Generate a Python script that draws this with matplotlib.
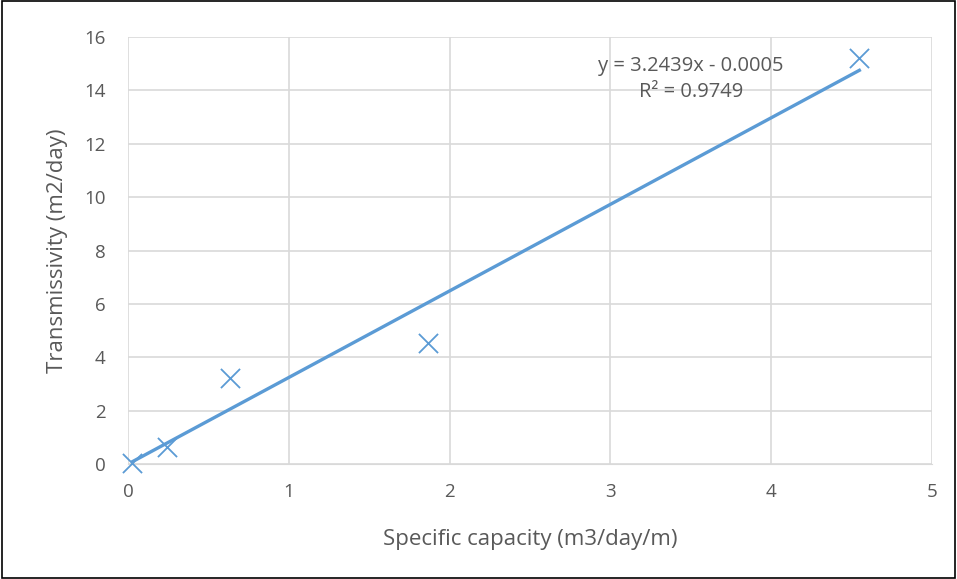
import matplotlib.pyplot as plt
import numpy as np
from matplotlib.patches import Rectangle

# Data
spec_cap = np.array([0.027, 0.24, 0.634, 1.864, 4.548])
transmiss = np.array([0.05, 0.65, 3.21, 4.55, 15.22])

slope = 3.2439
intercept = -0.0005
r2 = 0.9749

plt.rcParams['font.family'] = ['Open Sans', 'DejaVu Sans']

fig = plt.figure(figsize=(9.57, 5.79), dpi=100)
ax = fig.add_axes([0.1338, 0.1986, 0.8401, 0.7374])

blue = '#5b9bd5'
grey = '#595959'

ax.scatter(spec_cap, transmiss, marker='x', s=190, color=blue, linewidths=1.3,
           zorder=3, clip_on=False)

# Linear trendline across data range
xt = np.array([spec_cap.min(), spec_cap.max()])
ax.plot(xt, slope * xt + intercept, color=blue, linewidth=2.4, zorder=2, clip_on=False)

ax.text(3.5, 14.42, 'y = 3.2439x - 0.0005\nR² = 0.9749', ha='center', va='center',
        fontsize=14.5, color=grey, linespacing=1.4)

ax.set_xlim(0, 5)
ax.set_ylim(0, 16)
ax.set_xticks(range(0, 6))
ax.set_yticks(range(0, 17, 2))
ax.grid(True, color='#d9d9d9', linewidth=1.2)
ax.set_axisbelow(True)
for s in ax.spines.values():
    s.set_visible(False)
ax.spines['bottom'].set_visible(True)
ax.spines['bottom'].set_color('#d9d9d9')
ax.tick_params(length=0, labelsize=13.5, labelcolor=grey)
ax.tick_params(axis='x', pad=14)
ax.tick_params(axis='y', pad=16)

ax.set_xlabel('Specific capacity (m3/day/m)', fontsize=16, color=grey, labelpad=20)
ax.set_ylabel('Transmissivity (m2/day)', fontsize=16, color=grey, labelpad=12)

# chart frame
fig.patches.append(Rectangle((0.002, 0.002), 0.996, 0.996, transform=fig.transFigure,
                             fill=False, edgecolor='black', linewidth=1.2))

fig.savefig('out.png', dpi=100)
